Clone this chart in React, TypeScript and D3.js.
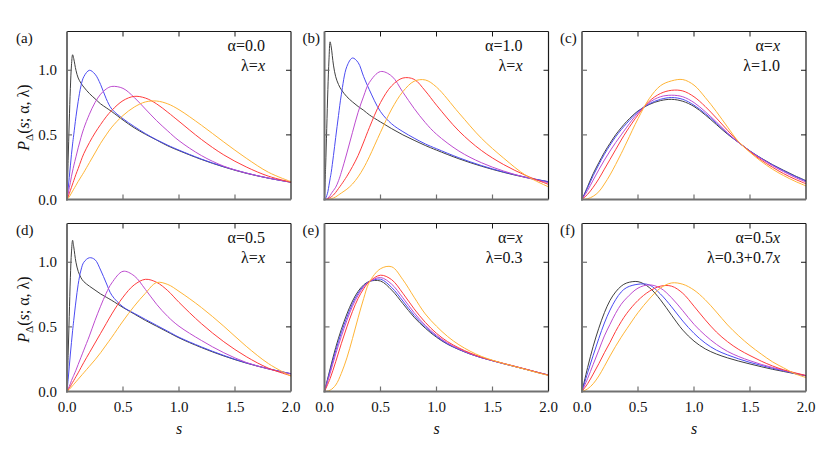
import React from 'react';
import * as d3 from 'd3';

// s grids the curves were read on
const S_FINE = [0, 0.01, 0.02, 0.03, 0.04, 0.05, 0.06, 0.08, 0.1, 0.125, 0.15, 0.2, 0.25, 0.3, 0.35, 0.4, 0.5, 0.6, 0.7, 0.8, 0.9, 1.0, 1.2, 1.4, 1.6, 1.8, 2.0];
const S_COARSE = [0, 0.05, 0.1, 0.15, 0.2, 0.25, 0.3, 0.35, 0.4, 0.5, 0.6, 0.7, 0.8, 0.9, 1.0, 1.1, 1.2, 1.3, 1.4, 1.5, 1.6, 1.7, 1.8, 1.9, 2.0];

// (a) alpha=0.0, lambda=x
const A_K = [0, 0.3, 0.6, 0.86, 1.04, 1.12, 1.09, 1.0, 0.94, 0.9, 0.87, 0.82, 0.78, 0.74, 0.71, 0.68, 0.615, 0.555, 0.505, 0.46, 0.415, 0.378, 0.31, 0.252, 0.203, 0.165, 0.134];
const A_B = [0, 0.08, 0.17, 0.26, 0.35, 0.43, 0.5, 0.64, 0.76, 0.88, 0.95, 1.0, 0.97, 0.89, 0.78, 0.7, 0.625, 0.565, 0.51, 0.462, 0.42, 0.382, 0.313, 0.254, 0.205, 0.165, 0.133];
const A_P = [0, 0.04, 0.09, 0.13, 0.18, 0.22, 0.26, 0.33, 0.4, 0.48, 0.55, 0.66, 0.75, 0.815, 0.855, 0.875, 0.86, 0.79, 0.7, 0.61, 0.53, 0.455, 0.34, 0.258, 0.205, 0.166, 0.134];
const A_R = [0, 0.02, 0.045, 0.07, 0.095, 0.12, 0.145, 0.195, 0.24, 0.3, 0.355, 0.44, 0.515, 0.58, 0.64, 0.69, 0.765, 0.798, 0.785, 0.74, 0.675, 0.605, 0.465, 0.345, 0.252, 0.18, 0.134];
const A_O = [0, 0.01, 0.02, 0.035, 0.05, 0.065, 0.08, 0.11, 0.14, 0.175, 0.21, 0.285, 0.36, 0.435, 0.5, 0.56, 0.65, 0.715, 0.755, 0.762, 0.74, 0.695, 0.575, 0.445, 0.32, 0.21, 0.138];

// (b) alpha=1.0, lambda=x
const B_K = [0, 0.25, 0.55, 0.85, 1.08, 1.22, 1.18, 1.04, 0.95, 0.89, 0.85, 0.795, 0.755, 0.72, 0.69, 0.655, 0.6, 0.548, 0.5, 0.458, 0.418, 0.382, 0.315, 0.258, 0.21, 0.17, 0.137];
const B_B = [0, 0.01, 0.03, 0.06, 0.11, 0.16, 0.21, 0.34, 0.48, 0.65, 0.81, 1.03, 1.095, 1.06, 0.95, 0.85, 0.68, 0.585, 0.525, 0.475, 0.43, 0.393, 0.323, 0.263, 0.213, 0.172, 0.138];
const B_P = [0, 0, 0.005, 0.01, 0.02, 0.03, 0.045, 0.07, 0.095, 0.145, 0.21, 0.36, 0.52, 0.675, 0.8, 0.905, 0.99, 0.955, 0.83, 0.705, 0.595, 0.505, 0.375, 0.285, 0.22, 0.17, 0.13];
const B_R = [0, 0, 0.002, 0.005, 0.01, 0.015, 0.02, 0.035, 0.055, 0.085, 0.115, 0.18, 0.255, 0.34, 0.445, 0.555, 0.75, 0.88, 0.94, 0.93, 0.84, 0.73, 0.53, 0.38, 0.27, 0.185, 0.117];
const B_O = [0, 0, 0, 0, 0.002, 0.004, 0.006, 0.012, 0.02, 0.035, 0.05, 0.08, 0.12, 0.175, 0.245, 0.33, 0.52, 0.7, 0.835, 0.915, 0.925, 0.87, 0.67, 0.475, 0.32, 0.185, 0.098];

// (c) alpha=x, lambda=1.0
const C_K = [0, 0.1, 0.2, 0.285, 0.365, 0.435, 0.5, 0.555, 0.605, 0.685, 0.735, 0.765, 0.775, 0.76, 0.72, 0.655, 0.58, 0.505, 0.44, 0.375, 0.32, 0.27, 0.226, 0.184, 0.146];
const C_B = [0, 0.09, 0.185, 0.27, 0.35, 0.42, 0.485, 0.54, 0.59, 0.68, 0.74, 0.775, 0.789, 0.775, 0.73, 0.665, 0.59, 0.51, 0.44, 0.375, 0.318, 0.268, 0.222, 0.18, 0.142];
const C_P = [0, 0.07, 0.15, 0.23, 0.305, 0.375, 0.44, 0.5, 0.56, 0.67, 0.75, 0.795, 0.807, 0.795, 0.75, 0.68, 0.6, 0.515, 0.44, 0.372, 0.315, 0.262, 0.215, 0.172, 0.135];
const C_R = [0, 0.04, 0.095, 0.16, 0.235, 0.31, 0.385, 0.46, 0.53, 0.655, 0.76, 0.82, 0.845, 0.84, 0.795, 0.72, 0.63, 0.535, 0.445, 0.37, 0.305, 0.25, 0.2, 0.158, 0.122];
const C_O = [0, 0.006, 0.025, 0.06, 0.12, 0.19, 0.27, 0.355, 0.445, 0.625, 0.78, 0.88, 0.918, 0.928, 0.885, 0.79, 0.68, 0.56, 0.445, 0.365, 0.295, 0.235, 0.185, 0.142, 0.105];

// (d) alpha=0.5, lambda=x
const D_K = [0, 0.28, 0.58, 0.88, 1.08, 1.17, 1.12, 1.0, 0.93, 0.88, 0.85, 0.815, 0.785, 0.755, 0.73, 0.705, 0.65, 0.6, 0.55, 0.505, 0.46, 0.415, 0.34, 0.275, 0.22, 0.175, 0.137];
const D_B = [0, 0.09, 0.19, 0.29, 0.38, 0.47, 0.55, 0.7, 0.83, 0.94, 1.0, 1.035, 1.02, 0.94, 0.84, 0.745, 0.655, 0.605, 0.558, 0.512, 0.466, 0.42, 0.345, 0.279, 0.222, 0.176, 0.138];
const D_P = [0, 0.02, 0.04, 0.06, 0.085, 0.105, 0.125, 0.165, 0.21, 0.265, 0.32, 0.43, 0.55, 0.66, 0.76, 0.84, 0.93, 0.895, 0.79, 0.675, 0.58, 0.505, 0.395, 0.3, 0.225, 0.174, 0.136];
const D_R = [0, 0.01, 0.025, 0.04, 0.055, 0.07, 0.085, 0.115, 0.145, 0.185, 0.225, 0.3, 0.375, 0.45, 0.525, 0.6, 0.73, 0.825, 0.868, 0.845, 0.78, 0.69, 0.525, 0.385, 0.27, 0.18, 0.122];
const D_O = [0, 0.008, 0.016, 0.025, 0.035, 0.045, 0.055, 0.075, 0.095, 0.12, 0.145, 0.195, 0.245, 0.3, 0.36, 0.42, 0.545, 0.66, 0.76, 0.843, 0.828, 0.775, 0.65, 0.505, 0.35, 0.215, 0.118];

// (e) alpha=x, lambda=0.3
const E_K = [0, 0.175, 0.34, 0.48, 0.6, 0.7, 0.775, 0.825, 0.852, 0.855, 0.785, 0.68, 0.575, 0.49, 0.42, 0.365, 0.325, 0.29, 0.262, 0.238, 0.215, 0.193, 0.171, 0.148, 0.127];
const E_B = [0, 0.16, 0.315, 0.455, 0.575, 0.68, 0.76, 0.818, 0.85, 0.869, 0.805, 0.7, 0.59, 0.5, 0.426, 0.368, 0.326, 0.291, 0.262, 0.238, 0.215, 0.193, 0.171, 0.148, 0.127];
const E_P = [0, 0.14, 0.29, 0.425, 0.55, 0.66, 0.745, 0.81, 0.85, 0.882, 0.83, 0.725, 0.61, 0.512, 0.435, 0.374, 0.33, 0.293, 0.263, 0.239, 0.216, 0.194, 0.172, 0.149, 0.127];
const E_R = [0, 0.1, 0.23, 0.37, 0.5, 0.62, 0.72, 0.795, 0.85, 0.9, 0.865, 0.76, 0.64, 0.535, 0.45, 0.385, 0.337, 0.298, 0.266, 0.24, 0.217, 0.195, 0.172, 0.149, 0.126];
const E_O = [0, 0.01, 0.05, 0.14, 0.26, 0.41, 0.57, 0.72, 0.845, 0.95, 0.965, 0.865, 0.73, 0.6, 0.505, 0.425, 0.362, 0.312, 0.272, 0.242, 0.216, 0.193, 0.17, 0.146, 0.124];

// (f) alpha=0.5x, lambda=0.3+0.7x
const F_K = [0, 0.185, 0.35, 0.49, 0.61, 0.705, 0.77, 0.815, 0.84, 0.85, 0.805, 0.71, 0.59, 0.475, 0.39, 0.33, 0.29, 0.26, 0.235, 0.213, 0.192, 0.172, 0.155, 0.138, 0.122];
const F_B = [0, 0.145, 0.28, 0.41, 0.53, 0.63, 0.71, 0.77, 0.805, 0.83, 0.825, 0.755, 0.655, 0.545, 0.45, 0.375, 0.32, 0.283, 0.252, 0.225, 0.202, 0.18, 0.16, 0.14, 0.122];
const F_P = [0, 0.1, 0.21, 0.32, 0.43, 0.52, 0.605, 0.675, 0.725, 0.8, 0.825, 0.8, 0.725, 0.625, 0.52, 0.435, 0.365, 0.31, 0.27, 0.238, 0.21, 0.186, 0.164, 0.142, 0.122];
const F_R = [0, 0.06, 0.135, 0.215, 0.3, 0.38, 0.465, 0.54, 0.605, 0.705, 0.775, 0.815, 0.815, 0.76, 0.66, 0.555, 0.46, 0.385, 0.325, 0.278, 0.235, 0.198, 0.168, 0.145, 0.124];
const F_O = [0, 0.02, 0.06, 0.12, 0.195, 0.275, 0.35, 0.42, 0.485, 0.61, 0.715, 0.8, 0.84, 0.83, 0.785, 0.71, 0.615, 0.515, 0.43, 0.355, 0.29, 0.23, 0.183, 0.138, 0.108];

const COLORS = ['#404040', '#4b4bf2', '#bd4ccf', '#ff3c3c', '#ffb436'];
const X_TICKS = [0, 0.5, 1, 1.5, 2];
const Y_TICKS = [0, 0.5, 1];

const PANEL_LABELS = ['(a)', '(b)', '(c)', '(d)', '(e)', '(f)'];
const ALPHA_TEXT = ['α=0.0', 'α=1.0', 'α=', 'α=0.5', 'α=', 'α=0.5'];
const ALPHA_ITALIC = ['', '', 'x', '', 'x', 'x'];
const LAMBDA_TEXT = ['λ=', 'λ=', 'λ=1.0', 'λ=', 'λ=0.3', 'λ=0.3+0.7'];
const LAMBDA_ITALIC = ['x', 'x', '', 'x', '', 'x'];
const PANEL_S = [S_FINE, S_FINE, S_COARSE, S_FINE, S_COARSE, S_COARSE];
const PANEL_CURVES = [
  [A_K, A_B, A_P, A_R, A_O],
  [B_K, B_B, B_P, B_R, B_O],
  [C_K, C_B, C_P, C_R, C_O],
  [D_K, D_B, D_P, D_R, D_O],
  [E_K, E_B, E_P, E_R, E_O],
  [F_K, F_B, F_P, F_R, F_O],
];

const COL_LEFT = [67, 324.5, 582];
const ROW_TOP = [31.5, 223.5];
const PW = 224;
const PH = 168;
const FONT = 'Liberation Serif';
const fmt = d3.format('.1f');

function Panel({ idx }: { idx: number }) {
  const col = idx % 3;
  const row = Math.floor(idx / 3);
  const x0 = COL_LEFT[col];
  const y0 = ROW_TOP[row];
  const x = d3.scaleLinear().domain([0, 2]).range([x0, x0 + PW]);
  const y = d3.scaleLinear().domain([0, 1.3]).range([y0 + PH, y0]);
  const sArr = PANEL_S[idx];
  const line = d3
    .line<number>()
    .x((_, i) => x(sArr[i]))
    .y((d) => y(d))
    .curve(d3.curveCatmullRom.alpha(0.5));
  const clipId = `clip-${idx}`;
  const gray = '#707070';
  const dark = '#1a1a1a';
  const tk = 5;

  return (
    <g>
      <defs>
        <clipPath id={clipId}>
          <rect x={x0} y={y0} width={PW} height={PH} />
        </clipPath>
      </defs>
      <g clipPath={`url(#${clipId})`}>
        {PANEL_CURVES[idx].map((c, i) => (
          <path key={i} d={line(c) || ''} fill="none" stroke={COLORS[i]} strokeWidth={1} />
        ))}
      </g>
      {/* frame */}
      <line x1={x0} x2={x0 + PW} y1={y0} y2={y0} stroke={dark} strokeWidth={1.2} />
      <line x1={x0 + PW} x2={x0 + PW} y1={y0} y2={y0 + PH} stroke={dark} strokeWidth={1.2} />
      <line x1={x0} x2={x0} y1={y0} y2={y0 + PH + 1} stroke={gray} strokeWidth={2} />
      <line x1={x0 - 1} x2={x0 + PW} y1={y0 + PH} y2={y0 + PH} stroke={gray} strokeWidth={2} />
      {/* ticks */}
      {X_TICKS.slice(1, -1).map((t) => (
        <g key={'xt' + t}>
          <line x1={x(t)} x2={x(t)} y1={y0 + PH} y2={y0 + PH - tk} stroke={gray} strokeWidth={1.2} />
          <line x1={x(t)} x2={x(t)} y1={y0} y2={y0 + tk} stroke={dark} strokeWidth={1} />
        </g>
      ))}
      {Y_TICKS.slice(1).map((t) => (
        <g key={'yt' + t}>
          <line x1={x0} x2={x0 + tk} y1={y(t)} y2={y(t)} stroke={gray} strokeWidth={1.2} />
          <line x1={x0 + PW} x2={x0 + PW - tk} y1={y(t)} y2={y(t)} stroke={dark} strokeWidth={1} />
        </g>
      ))}
      {/* tick labels */}
      {col === 0 &&
        Y_TICKS.map((t) => (
          <text key={'yl' + t} x={x0 - 10} y={y(t) + 5} textAnchor="end" fontSize={15} fontFamily={FONT} fill="#111">
            {fmt(t)}
          </text>
        ))}
      {row === 1 &&
        X_TICKS.map((t) => (
          <text key={'xl' + t} x={x(t)} y={y0 + PH + 20} textAnchor="middle" fontSize={15} fontFamily={FONT} fill="#111">
            {fmt(t)}
          </text>
        ))}
      {row === 1 && (
        <text x={x0 + PW / 2} y={433.5} textAnchor="middle" fontSize={16} fontStyle="italic" fontFamily={FONT} fill="#111">
          s
        </text>
      )}
      {col === 0 && (
        <text
          transform={`translate(29, ${y0 + PH / 2 + 2}) rotate(-90)`}
          textAnchor="middle"
          fontSize={16}
          fontFamily={FONT}
          fill="#111"
        >
          <tspan fontStyle="italic">P</tspan>
          <tspan fontSize={11} dy={4}>Δ</tspan>
          <tspan dy={-4}>(</tspan>
          <tspan fontStyle="italic">s</tspan>
          <tspan>; α, λ)</tspan>
        </text>
      )}
      {/* panel label */}
      <text x={col === 0 ? 16 : x0 - 22} y={y0 + 11} fontSize={15} fontFamily={FONT} fill="#111">
        {PANEL_LABELS[idx]}
      </text>
      {/* parameter annotation */}
      <text x={x0 + PW - 26} y={y0 + 19} textAnchor="end" fontSize={16} fontFamily={FONT} fill="#111">
        <tspan>{ALPHA_TEXT[idx]}</tspan>
        {ALPHA_ITALIC[idx] && <tspan fontStyle="italic">{ALPHA_ITALIC[idx]}</tspan>}
      </text>
      <text x={x0 + PW - 26} y={y0 + 39} textAnchor="end" fontSize={16} fontFamily={FONT} fill="#111">
        <tspan>{LAMBDA_TEXT[idx]}</tspan>
        {LAMBDA_ITALIC[idx] && <tspan fontStyle="italic">{LAMBDA_ITALIC[idx]}</tspan>}
      </text>
    </g>
  );
}

export default function App() {
  return (
    <svg
      width={830}
      height={456}
      viewBox="0 0 830 456"
      style={{ position: 'absolute', left: 0, top: 0, background: '#fff' }}
    >
      {PANEL_LABELS.map((_, i) => (
        <Panel key={i} idx={i} />
      ))}
    </svg>
  );
}
